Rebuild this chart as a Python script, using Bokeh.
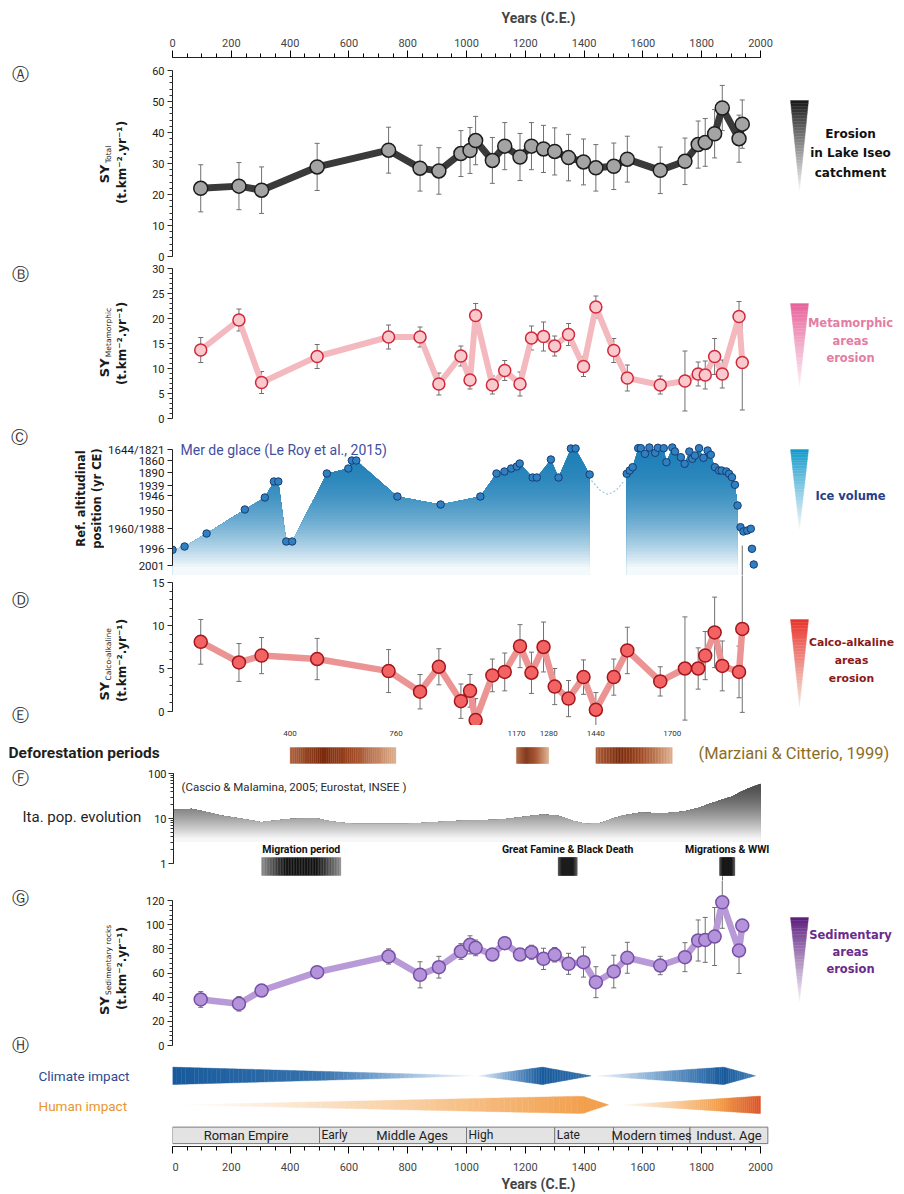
import numpy as np
from bokeh.plotting import figure
from bokeh.layouts import column, row
from bokeh.models import (Range1d, LinearAxis, LogAxis, FixedTicker, SingleIntervalTicker,
                          LogTicker, Label, ColumnDataSource, Whisker, TeeHead)
from bokeh.embed import file_html
from bokeh.resources import INLINE

# ---------------------------------------------------------------- data
sample_years = [96, 226, 303, 492, 735, 842, 906, 981, 1012, 1031, 1088, 1130, 1182, 1221,
                1262, 1300, 1347, 1398, 1440, 1501, 1547, 1659, 1743, 1788, 1812, 1844,
                1870, 1927, 1938]
sy_total = [22.0, 22.7, 21.4, 28.9, 34.3, 28.5, 27.6, 33.2, 34.2, 37.4, 31.0, 35.6, 32.1, 35.6,
            34.7, 33.9, 31.9, 30.5, 28.6, 29.1, 31.4, 27.8, 30.7, 36.1, 36.8, 39.6, 47.9, 38.0, 42.7]
sy_total_err = [7.6, 7.6, 7.5, 7.6, 7.4, 7.4, 7.5, 7.4, 7.4, 7.8, 7.4, 7.6, 7.6, 7.6,
                7.6, 7.6, 7.5, 7.4, 7.5, 7.5, 7.4, 7.5, 7.5, 7.6, 7.7, 7.8, 7.3, 7.6, 7.8]
sy_meta = [13.7, 19.7, 7.2, 12.4, 16.3, 16.3, 6.9, 12.5, 7.7, 20.6, 6.7, 9.6, 6.9, 16.1,
           16.4, 14.5, 16.8, 10.4, 22.3, 13.6, 8.1, 6.7, 7.5, 8.9, 8.7, 12.4, 8.9, 20.4, 11.2]
sy_meta_err = [2.5, 2.2, 2.2, 2.4, 2.4, 2.0, 2.2, 2.0, 1.8, 2.4, 1.8, 2.0, 2.4, 2.4,
               2.9, 2.0, 2.2, 2.0, 2.2, 2.4, 2.6, 1.8, 6.0, 2.4, 2.8, 3.6, 2.8, 3.0, 9.5]
sy_calco = [8.1, 5.7, 6.5, 6.1, 4.7, 2.3, 5.2, 1.2, 2.4, -1.0, 4.2, 4.6, 7.6, 4.5,
            7.5, 2.9, 1.5, 4.0, 0.2, 4.0, 7.1, 3.5, 5.0, 5.0, 6.5, 9.2, 5.3, 4.6, 9.6]
sy_calco_err = [2.6, 2.2, 2.1, 2.4, 2.5, 2.0, 2.1, 2.0, 1.9, 2.5, 1.9, 2.2, 2.5, 2.4,
                2.9, 2.1, 2.1, 2.0, 2.0, 2.1, 2.7, 1.7, 6.0, 2.4, 2.8, 4.1, 2.9, 3.0, 9.7]
sy_sed = [38.1, 34.5, 45.5, 60.7, 73.7, 58.5, 64.8, 77.8, 83.3, 80.8, 75.3, 84.7, 75.3, 77.2,
          71.7, 75.1, 67.6, 69.0, 52.4, 61.2, 72.6, 66.2, 73.1, 86.9, 87.4, 90.2, 118.5, 78.6, 99.3]
sy_sed_err = [6.5, 6.0, 5.0, 4.0, 6.3, 10.8, 9.0, 6.5, 7.5, 6.5, 5.0, 5.0, 4.0, 5.8,
              8.8, 6.0, 8.7, 12.4, 12.8, 13.5, 12.8, 7.6, 12.0, 17.0, 18.6, 24.0, 21.5, 19.0, 5.0]

# Mer de glace reference positions (axis: relative position, labelled by reference years)
ice_tick_pos = [0, 17, 37, 55, 70, 80, 93, 105, 116]
ice_tick_labels = ["2001", "1996", "1960/1988", "1950", "1946", "1939", "1890", "1860", "1644/1821"]
ice_years_1 = [0, 41, 116, 246, 314, 345, 360, 387, 407, 525, 598, 610, 625, 765, 912, 1047,
               1102, 1129, 1152, 1171, 1181, 1225, 1239, 1287, 1313, 1355, 1371, 1419]
ice_level_1 = [15.7, 19, 32, 56, 68, 84, 84, 24, 24, 92, 97, 105, 105, 69, 61, 69,
               92, 94, 97, 99, 102, 88, 88, 106, 88, 117, 117, 91]
ice_years_2 = [1545, 1555, 1565, 1584, 1593, 1607, 1622, 1642, 1651, 1671, 1680, 1700, 1709,
               1729, 1742, 1758, 1768, 1777, 1791, 1806, 1820, 1831, 1845, 1859, 1868, 1884,
               1893, 1903, 1913, 1922, 1932, 1942, 1955, 1967, 1971, 1977]
ice_level_2 = [91.7, 95, 98.3, 117.3, 117.3, 111.7, 118, 112.7, 117.7, 117.3, 103.3, 118, 114,
               108.3, 101.7, 114, 106.7, 110, 117.3, 107.7, 115, 110.7, 98.3, 95, 95, 94,
               91.7, 88.3, 80.7, 60, 38.3, 34, 35, 36.7, 16.7, 1]
ice_area_end = 1922
ice_gap_years = [1425, 1455, 1481, 1508, 1538]
ice_gap_level = [85, 75, 71, 75, 85]

defo_start = [400, 1170, 1440]
defo_end = [760, 1280, 1700]

pop_years = [0, 62, 160, 297, 395, 483, 532, 611, 787, 983, 1120, 1258, 1307, 1356, 1405,
             1454, 1532, 1591, 1669, 1738, 1787, 1846, 1904, 2000]
pop_values = [15.6, 16.4, 11.7, 8.3, 9.8, 10.3, 8.7, 7.6, 7.6, 9.0, 9.5, 12.3, 11.7, 9.0, 7.6,
              7.9, 11.7, 13.6, 13.0, 14.3, 17.0, 23.4, 30.9, 59.0]
crisis_start = [300, 1310, 1860]
crisis_end = [570, 1375, 1912]
crisis_names = ["Migration period", "Great Famine & Black Death", "Migrations & WWI"]

period_names = ["Roman Empire", "Early", "High", "Late", "Modern times", "Indust. Age"]
period_start = [0, 500, 1000, 1300, 1500, 1760]
period_end = [500, 1000, 1300, 1500, 1760, 2025]

climate_keys_x = [[0, 500, 1042], [1042, 1258, 1424], [1444, 1875, 1983]]
climate_keys_w = [[1, 0.52, 0], [0, 1, 0], [0, 1, 0]]
climate_keys_s = [[1, 0.85, 0], [0.1, 1, 0.85], [0.05, 1, 0.75]]
human_keys_x = [[23, 1395, 1483], [1532, 1993, 2000]]
human_keys_w = [[0, 1, 0], [0, 1, 1]]
human_keys_s = [[0, 0.72, 0.72], [0.05, 1, 1]]

# ---------------------------------------------------------------- layout helpers
PAGE_W = 904
FRAME_LEFT = 172
PX_YR = 588 / 2000
X_END = (PAGE_W - FRAME_LEFT) / PX_YR
FONT = "Roboto"
SANS = "DejaVu Sans"


def xp(px):
    return (px - FRAME_LEFT) / PX_YR


class Panel:
    def __init__(self, top, bottom, ftop, fbot, cal, gutter, log=False):
        (v1, y1), (v2, y2) = cal
        self.log = log
        if log:
            v1, v2 = np.log10(v1), np.log10(v2)
        self.v1, self.y1 = v1, y1
        self.k = (v2 - v1) / (y2 - y1)
        self.top, self.bottom, self.ftop, self.fbot = top, bottom, ftop, fbot
        self.gutter = gutter

    def v(self, y):
        val = self.v1 + (y - self.y1) * self.k
        return 10 ** val if self.log else val

    def y(self, val):
        if self.log:
            val = np.log10(val)
        return self.y1 + (val - self.v1) / self.k


def make_fig(pn):
    p = figure(width=PAGE_W - pn.gutter, height=pn.bottom - pn.top,
               x_range=Range1d(0, X_END),
               y_range=Range1d(pn.v(pn.fbot), pn.v(pn.ftop)),
               y_axis_type="log" if pn.log else "linear",
               x_axis_location=None, y_axis_location=None,
               output_backend="svg", toolbar_location=None,
               min_border_left=FRAME_LEFT - pn.gutter, min_border_right=0,
               min_border_top=pn.ftop - pn.top, min_border_bottom=pn.bottom - pn.fbot)
    p.outline_line_color = None
    p.grid.visible = False
    return p


def make_gutter(pn):
    # the row aligns this figure's frame with the panel frame: map page pixels of that frame
    g = figure(width=pn.gutter, height=pn.bottom - pn.top,
               x_range=Range1d(0, pn.gutter), y_range=Range1d(pn.fbot, pn.ftop),
               x_axis_location=None, y_axis_location=None,
               output_backend="svg", toolbar_location=None,
               min_border_left=0, min_border_right=0,
               min_border_top=pn.ftop - pn.top, min_border_bottom=pn.bottom - pn.fbot)
    g.outline_line_color = None
    g.grid.visible = False
    return g


def mklabel(x, y, text, size, color, font, bold, angle, align, baseline):
    return Label(x=x, y=y, text=text, text_font=font, text_font_size=f"{size}px",
                 text_color=color, text_font_style="bold" if bold else "normal", angle=angle,
                 text_align=align, text_baseline=baseline)


def lab(p, pn, px, py, text, size, color="#222222", font=FONT, bold=False, angle=0.0,
        align="center", baseline="middle"):
    p.add_layout(mklabel(xp(px), pn.v(py), text, size, color, font, bold, angle, align, baseline))


def glab(g, px, py, text, size, color="#222222", font=FONT, bold=False, angle=0.0,
         align="center", baseline="middle"):
    g.add_layout(mklabel(px, py, text, size, color, font, bold, angle, align, baseline))


def yaxis(p, lo, hi, interval=None, minor=0, ticks=None, overrides=None, log=False, size=11,
          standoff=3):
    ax = LogAxis() if log else LinearAxis()
    ax.bounds = (lo, hi)
    if log:
        ax.ticker = LogTicker(mantissas=[1], num_minor_ticks=10)
    elif ticks is not None:
        ax.ticker = FixedTicker(ticks=ticks)
    else:
        ax.ticker = SingleIntervalTicker(interval=interval, num_minor_ticks=minor)
    if overrides:
        ax.major_label_overrides = overrides
    ax.major_tick_out = 5
    ax.major_tick_in = 0
    ax.minor_tick_out = 3
    ax.minor_tick_in = 0
    ax.major_label_standoff = standoff
    ax.major_label_text_font = FONT
    ax.major_label_text_font_size = f"{size}px"
    ax.major_label_text_color = "#1a1a1a"
    ax.axis_line_color = "#222222"
    ax.major_tick_line_color = "#222222"
    ax.minor_tick_line_color = "#333333"
    p.add_layout(ax, "left")


def xaxis(p, where, label_standoff, title_standoff):
    ax = LinearAxis(axis_label="Years (C.E.)", bounds=(0, 2000),
                    ticker=SingleIntervalTicker(interval=200, num_minor_ticks=4))
    ax.major_tick_out = 7
    ax.major_tick_in = 0
    ax.minor_tick_out = 4
    ax.minor_tick_in = 0
    ax.major_label_standoff = label_standoff
    ax.axis_label_standoff = title_standoff
    ax.major_label_text_font = FONT
    ax.major_label_text_font_size = "11px"
    ax.axis_label_text_font = FONT
    ax.axis_label_text_font_style = "bold"
    ax.axis_label_text_font_size = "14px"
    ax.axis_line_color = "#222222"
    p.add_layout(ax, where)


def series(p, vals, errs, line_color, fill, edge, size, lw):
    src = ColumnDataSource(dict(x=sample_years, y=vals,
                                up=[v + e for v, e in zip(vals, errs)],
                                lo=[v - e for v, e in zip(vals, errs)]))
    w = Whisker(source=src, base="x", upper="up", lower="lo", line_color="#707070",
                line_width=1, level="underlay",
                upper_head=TeeHead(size=5, line_color="#707070", line_width=1),
                lower_head=TeeHead(size=5, line_color="#707070", line_width=1))
    p.add_layout(w)
    p.line("x", "y", source=src, line_color=line_color, line_width=lw, line_join="round")
    p.scatter("x", "y", source=src, size=size, fill_color=fill, line_color=edge, line_width=1.5)


def hexmix(c1, c2, t):
    a = [int(c1[i:i + 2], 16) for i in (1, 3, 5)]
    b = [int(c2[i:i + 2], 16) for i in (1, 3, 5)]
    return "#%02x%02x%02x" % tuple(int(round(a[k] + (b[k] - a[k]) * t)) for k in range(3))


def cmap(stops, t):
    t = min(max(t, 0.0), 1.0)
    for (t0, c0), (t1, c1) in zip(stops[:-1], stops[1:]):
        if t <= t1:
            return hexmix(c0, c1, (t - t0) / (t1 - t0) if t1 > t0 else 0)
    return stops[-1][1]


def grad_triangle(p, pn, ytop, ybot, ctop, cbot, n=30, x0=790, x1=808):
    xl, xr = xp(x0), xp(x1)
    xm = (xl + xr) / 2
    xs, ys, cs = [], [], []
    for i in range(n):
        f0, f1 = i / n, (i + 1) / n
        ya, yb = ytop + (ybot - ytop) * f0, ytop + (ybot - ytop) * f1
        ha, hb = (xr - xl) / 2 * (1 - f0), (xr - xl) / 2 * (1 - f1)
        xs.append([xm - ha, xm + ha, xm + hb, xm - hb])
        ys.append([pn.v(ya), pn.v(ya), pn.v(yb), pn.v(yb)])
        cs.append(hexmix(ctop, cbot, ((f0 + f1) / 2) ** 0.9))
    p.patches(xs, ys, fill_color=cs, line_color=cs, line_width=0.4)


def grad_hbar(p, x0, x1, y0, y1, stops, n=50):
    edges = np.linspace(x0, x1, n + 1)
    cols = [cmap(stops, (i + 0.5) / n) for i in range(n)]
    p.quad(left=edges[:-1], right=edges[1:], bottom=y0, top=y1,
           fill_color=cols, line_color=cols, line_width=0.3)


def grad_area(p, pn, segs, base, y_top, y_bot, c_top, c_bot, power, step, dens=2.0):
    """Area under curve(s) with a vertical colour gradient, drawn as stacked opaque layers."""
    dense = []
    for xs, ys in segs:
        dx = np.union1d(np.arange(xs[0], xs[-1], dens), xs)
        dense.append((dx, np.interp(dx, xs, ys)))
    for ypx in np.arange(y_top, y_bot, step):
        cap = pn.v(ypx)
        col = hexmix(c_top, c_bot, ((ypx - y_top) / (y_bot - y_top)) ** power)
        for dx, dy in dense:
            p.varea(x=dx, y1=base, y2=np.minimum(dy, cap), fill_color=col)


def band(p, keys_x, keys_w, keys_s, yc, half, stops, n=70):
    xs_all, ys_all, cs = [], [], []
    xs = np.linspace(keys_x[0], keys_x[-1], n + 1)
    w = np.interp(xs, keys_x, keys_w)
    s = np.interp(xs, keys_x, keys_s)
    for i in range(n):
        xs_all.append([xs[i], xs[i + 1], xs[i + 1], xs[i]])
        ys_all.append([yc + half * w[i], yc + half * w[i + 1], yc - half * w[i + 1], yc - half * w[i]])
        cs.append(cmap(stops, (s[i] + s[i + 1]) / 2))
    p.patches(xs_all, ys_all, fill_color=cs, line_color=cs, line_width=0.4)


def ylab(g, sub, line2, yc, x1=104, x2=121):
    sy_len = 19
    sub_len = len(sub) * 4.3
    total = sy_len + 1 + sub_len
    ystart = yc + total / 2
    glab(g, x1, ystart, "SY", 13, "#1a1a1a", font=SANS, bold=True, angle=np.pi / 2, align="left")
    glab(g, x1 + 4, ystart - sy_len - 1, sub, 7.5, "#1a1a1a", font=SANS, angle=np.pi / 2, align="left")
    glab(g, x2, yc, line2, 12, "#1a1a1a", font=SANS, bold=True, angle=np.pi / 2)


def right_text(p, pn, lines, ys, color, size=12, x=850):
    for t, y in zip(lines, ys):
        lab(p, pn, x, y, t, size, color, font=SANS, bold=True)


def letter(g, px, py, ch):
    glab(g, px, py, ch, 17, "#333333", font=SANS)


UNITS = "(t.km\u207b\u00b2.yr\u207b\u00b9)"

PANELS = {
    "A": dict(top=0, bottom=262, ftop=57, fbot=262, cal=((60, 70), (0, 256)), gutter=140),
    "B": dict(top=262, bottom=425, ftop=262, fbot=425, cal=((30, 268), (0, 418)), gutter=140),
    "C": dict(top=425, bottom=575, ftop=425, fbot=575, cal=((116, 449), (0, 565)), gutter=104),
    "D": dict(top=575, bottom=725, ftop=575, fbot=725, cal=((15, 582), (0, 711)), gutter=140),
    "E": dict(top=725, bottom=768, ftop=725, fbot=768, cal=((1, 747), (0, 763)), gutter=172),
    "F": dict(top=768, bottom=880, ftop=768, fbot=880, cal=((100, 773), (1, 863)), gutter=144,
              log=True),
    "G": dict(top=880, bottom=1055, ftop=880, fbot=1055, cal=((120, 900), (0, 1045)), gutter=140),
    "H": dict(top=1055, bottom=1194, ftop=1055, fbot=1149, cal=((2, 1076), (1, 1106)), gutter=172),
}
P = {k: Panel(**v) for k, v in PANELS.items()}
rows = []

# ---------------------------------------------------------------- A
pn = P["A"]; p = make_fig(pn); g = make_gutter(pn)
xaxis(p, "above", 4, 10)
yaxis(p, 0, 60, 10, 5)
series(p, sy_total, sy_total_err, "#3a3a3a", "#a4a4a4", "#1c1c1c", 14, 7)
grad_triangle(p, pn, 100, 190, "#141414", "#f4f4f4")
right_text(p, pn, ["Erosion", "in Lake Iseo", "catchment"], [133, 152, 172], "#111111")
letter(g, 20, 73, "\u24b6")
ylab(g, "Total", UNITS, 162)
rows.append(row(g, p, spacing=0))

# ---------------------------------------------------------------- B
pn = P["B"]; p = make_fig(pn); g = make_gutter(pn)
yaxis(p, 0, 30, 5, 5)
series(p, sy_meta, sy_meta_err, "#f4b9bf", "#f9c9cd", "#d2283a", 12, 6)
grad_triangle(p, pn, 303, 386, "#e8609a", "#fbf1f5")
right_text(p, pn, ["Metamorphic", "areas", "erosion"], [322, 340, 357], "#e57ca4", 11.5)
letter(g, 20, 273, "\u24b7")
ylab(g, "Metamorphic", UNITS, 343)
rows.append(row(g, p, spacing=0))

# ---------------------------------------------------------------- C
pn = P["C"]; p = make_fig(pn); g = make_gutter(pn)
yaxis(p, 0, 116, ticks=ice_tick_pos,
      overrides={t: l for t, l in zip(ice_tick_pos, ice_tick_labels)}, size=11.5)
base = pn.v(pn.fbot)
keep = [i for i, yr in enumerate(ice_years_2) if yr <= ice_area_end]
seg2 = ([ice_years_2[i] for i in keep], [ice_level_2[i] for i in keep])
grad_area(p, pn, [(ice_years_1, ice_level_1), seg2], base, 446, 569,
          "#1f80b8", "#ffffff", 2.0, 3)
p.line(ice_gap_years, ice_gap_level, line_dash="2 2", line_color="#9cc9de", line_width=1.2)
p.scatter(ice_years_1 + ice_years_2, ice_level_1 + ice_level_2, size=7.5,
          fill_color="#2f7fc1", line_color="#173e73", line_width=1)
# upper part of panel D's last error bar (reaching into this panel)
d_top = sy_calco[-1] + sy_calco_err[-1]
p.segment(x0=[sample_years[-1]], x1=[sample_years[-1]], y0=[pn.v(P["D"].y(d_top))],
          y1=[base], line_color="#707070", line_width=1)
grad_triangle(p, pn, 449, 529, "#0d98c9", "#f1f7fb")
right_text(p, pn, ["Ice volume"], [495], "#27408b", 11.5)
lab(p, pn, 180, 449, "Mer de glace (Le Roy et al., 2015)", 14, "#3f4f9f", align="left")
letter(g, 19, 436, "\u24b8")
glab(g, 80, 498, "Ref. altitudinal", 11.5, "#1a1a1a", font=SANS, bold=True, angle=np.pi / 2)
glab(g, 96, 498, "position (yr CE)", 11.5, "#1a1a1a", font=SANS, bold=True, angle=np.pi / 2)
rows.append(row(g, p, spacing=0))

# ---------------------------------------------------------------- D
pn = P["D"]; p = make_fig(pn); g = make_gutter(pn)
yaxis(p, 0, 15, 5, 5)
series(p, sy_calco, sy_calco_err, "#ec9494", "#f36363", "#a3161b", 13, 6.5)
grad_triangle(p, pn, 619, 706, "#e8302a", "#f7e6df")
right_text(p, pn, ["Calco-alkaline", "areas", "erosion"], [642, 660, 678], "#8b1a1a", 10.8, x=851)
letter(g, 20, 599, "\u24b9")
letter(g, 20, 714, "\u24ba")
ylab(g, "Calco-alkaline", UNITS, 660)
rows.append(row(g, p, spacing=0))

# ---------------------------------------------------------------- E
pn = P["E"]; p = make_fig(pn); g = make_gutter(pn)
defo_stops = [(0, "#b0623c"), (0.3, "#7a2a0c"), (0.6, "#a14a24"), (1, "#ddb08e")]
for s0, s1 in zip(defo_start, defo_end):
    grad_hbar(p, s0, s1, 0, 1, defo_stops)
    lab(p, pn, FRAME_LEFT + s0 * PX_YR, 733, str(s0), 8, "#333333")
    lab(p, pn, FRAME_LEFT + s1 * PX_YR, 733, str(s1), 8, "#333333")
glab(g, 8, 752, "Deforestation periods", 15.5, "#1f1f1f", bold=True, align="left")
lab(p, pn, 698, 753, "(Marziani & Citterio, 1999)", 16.5, "#8c6d1f", align="left")
rows.append(row(g, p, spacing=0))

# ---------------------------------------------------------------- F
pn = P["F"]; p = make_fig(pn); g = make_gutter(pn)
yaxis(p, 1, 100, log=True, overrides={1: "1", 10: "10", 100: "100"}, size=11, standoff=2)
grad_area(p, pn, [(pop_years, pop_values)], 3.0, 779, 839, "#4a4a4a", "#ffffff", 1.5, 2)
crisis_stops = [(0, "#8c8c8c"), (0.3, "#151515"), (0.7, "#151515"), (1, "#8c8c8c")]
crisis_stops2 = [(0, "#555555"), (0.2, "#141414"), (0.8, "#141414"), (1, "#555555")]
for i, (c0, c1, nm) in enumerate(zip(crisis_start, crisis_end, crisis_names)):
    grad_hbar(p, c0, c1, pn.v(875), pn.v(857), crisis_stops if i == 0 else crisis_stops2)
    lab(p, pn, FRAME_LEFT + (c0 + c1) / 2 * PX_YR, 849, nm, 10.5, "#111111", bold=True)
g_top = sy_sed[26] + sy_sed_err[26]
p.segment(x0=[sample_years[26]], x1=[sample_years[26]], y0=[pn.v(P["G"].y(g_top))],
          y1=[pn.v(pn.fbot + 2)], line_color="#707070", line_width=1)
lab(p, pn, 180, 786, "(Cascio & Malamina, 2005; Eurostat, INSEE )", 11.5, "#2a2a2a", align="left")
glab(g, 22, 816, "Ita. pop. evolution", 15, "#1f1f1f", align="left")
letter(g, 20, 777, "\u24bb")
rows.append(row(g, p, spacing=0))

# ---------------------------------------------------------------- G
pn = P["G"]; p = make_fig(pn); g = make_gutter(pn)
yaxis(p, 0, 120, 20, 5)
series(p, sy_sed, sy_sed_err, "#b99ad9", "#b493da", "#7650a6", 13, 6.5)
grad_triangle(p, pn, 917, 1001, "#5a1a7c", "#f6f1f8")
right_text(p, pn, ["Sedimentary", "areas", "erosion"], [934, 951, 968], "#6a2c8c", 11.5)
letter(g, 20, 897, "\u24bc")
letter(g, 20, 1044, "\u24bd")
ylab(g, "Sedimentary rocks", UNITS, 968)
rows.append(row(g, p, spacing=0))

# ---------------------------------------------------------------- H
pn = P["H"]; p = make_fig(pn); g = make_gutter(pn)
xaxis(p, "below", 9, 2)
clim_stops = [(0, "#ffffff"), (0.5, "#7fa9d3"), (1, "#175a9c")]
hum_stops = [(0, "#ffffff"), (0.4, "#f9d0a4"), (0.72, "#f2a04e"), (1, "#de5626")]
for kx, kw, ks in zip(climate_keys_x, climate_keys_w, climate_keys_s):
    band(p, kx, kw, ks, 2.0, 0.3, clim_stops)
for kx, kw, ks in zip(human_keys_x, human_keys_w, human_keys_s):
    band(p, kx, kw, ks, 1.0, 0.3, hum_stops)
p.quad(left=period_start, right=period_end, bottom=pn.v(1146), top=pn.v(1129),
       fill_color="#e3e3e3", line_color="#7a7a7a", line_width=1)
for nm, s0, s1 in zip(period_names, period_start, period_end):
    if nm in ("Early", "High", "Late"):
        lab(p, pn, FRAME_LEFT + s0 * PX_YR + 2, 1130, nm, 12, "#222222",
            align="left", baseline="top")
    else:
        lab(p, pn, FRAME_LEFT + (s0 + s1) / 2 * PX_YR, 1138, nm, 13, "#222222")
lab(p, pn, FRAME_LEFT + 815 * PX_YR, 1138, "Middle Ages", 13, "#222222")
glab(g, 38, 1076, "Climate impact", 13.5, "#2e4a8e", align="left")
glab(g, 38, 1107, "Human impact", 13.5, "#e8962e", align="left")
rows.append(row(g, p, spacing=0))

layout = column(*rows, spacing=0)
open("out.html", "w").write(file_html(layout, INLINE))
